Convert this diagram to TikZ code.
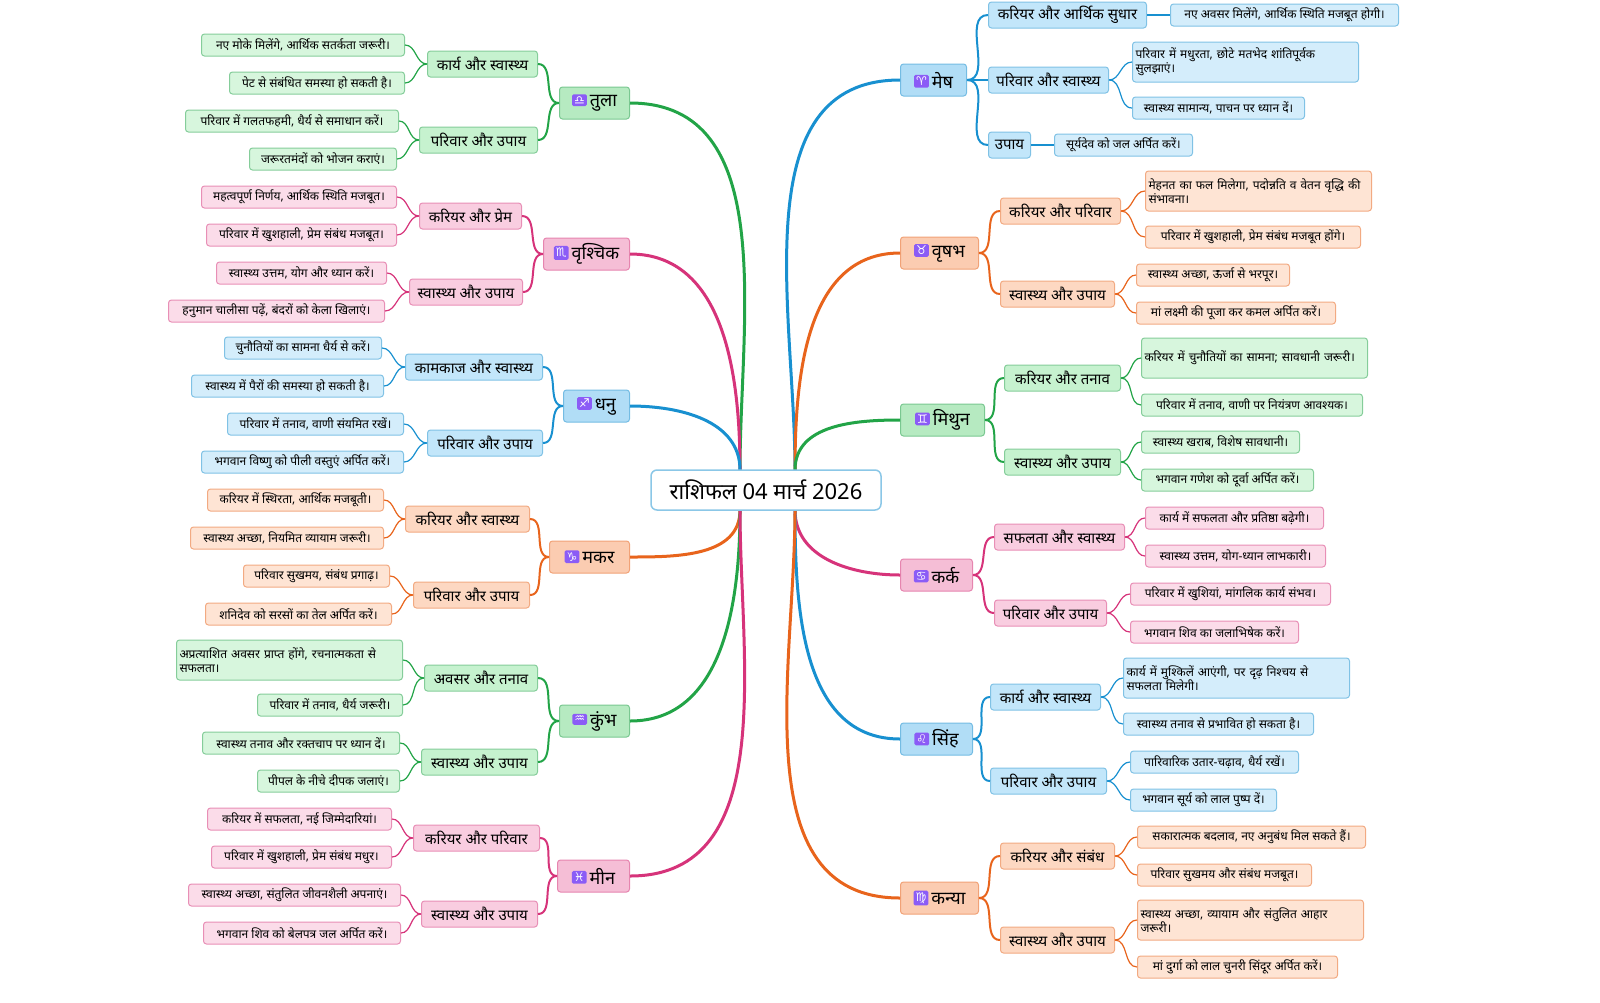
\documentclass[tikz,border=0pt]{standalone}
\usepackage{fontspec}
\setmainfont[Script=Devanagari]{Noto Sans}
\newfontfamily\symfont{DejaVu Sans}
\usetikzlibrary{positioning}
\definecolor{grn}{HTML}{22A447}
\definecolor{pnk}{HTML}{D6337A}
\definecolor{blu}{HTML}{1890D0}
\definecolor{org}{HTML}{E8641C}
\definecolor{grnfill}{HTML}{C6F2CF}
\definecolor{pnkfill}{HTML}{F9CDE0}
\definecolor{blufill}{HTML}{C2E6FA}
\definecolor{orgfill}{HTML}{FDD8C2}
\definecolor{zodiac}{HTML}{8B5CF6}
\newcommand\zsign[1]{\tikz[baseline=-0.7ex]\node[fill=zodiac, draw=none, text=white, rounded corners=1.5pt,
  minimum width=0pt, minimum height=0pt, inner sep=2pt, font=\symfont\fontsize{12}{12}\selectfont]{#1};\,}

\begin{document}
\begin{tikzpicture}[x=1pt, y=-1pt,
  box/.style={rounded corners=3pt, line width=1pt, inner sep=3pt, align=left},
  leaf/.style={box, draw=#1!55, fill=#1fill!70, minimum height=22, font=\fontsize{12}{14}\selectfont},
  twoline/.style={minimum height=40, text width=220},
  sub/.style={box, draw=#1!55, fill=#1fill, minimum height=26, align=center, font=\fontsize{15}{17}\selectfont},
  sign/.style={box, draw=#1!60, fill=#1fill!90!#1, minimum height=32, align=center, font=\fontsize{18}{20}\selectfont\bfseries},
  main/.style={rounded corners=6pt, draw=blu!50, line width=1.5pt, fill=white, minimum width=230,
    minimum height=40, font=\fontsize{22}{24}\selectfont\bfseries},
  trunk/.style={line width=3pt},
  twig/.style={line width=2pt},
  leaf link/.style={line width=1.2pt},
]
\useasboundingbox (0,0) rectangle (1600,1002);

% trunks from the centre
\coordinate (ul) at (740,470); \coordinate (dl) at (740,510);
\coordinate (ur) at (795,470); \coordinate (dr) at (795,510);

% ---------- left: tula ----------
\node[sign=grn, anchor=east, minimum width=70] (tula) at (630,103) {\zsign{♎}तुला};
\node[sub=grn, anchor=east, minimum width=110] (tula1) at (538,64) {कार्य और स्वास्थ्य};
\node[sub=grn, anchor=east, minimum width=118] (tula2) at (538,140) {परिवार और उपाय};
\node[leaf=grn, anchor=east, minimum width=203] (tula11) at (405,45) {नए मोके मिलेंगे, आर्थिक सतर्कता जरूरी।};
\node[leaf=grn, anchor=east, minimum width=175] (tula12) at (405,83) {पेट से संबंधित समस्या हो सकती है।};
\node[leaf=grn, anchor=east, minimum width=213] (tula21) at (399,121) {परिवार में गलतफहमी, धैर्य से समाधान करें।};
\node[leaf=grn, anchor=east, minimum width=147] (tula22) at (397,159) {जरूरतमंदों को भोजन कराएं।};

% ---------- left: vrishchik ----------
\node[sign=pnk, anchor=east, minimum width=86] (vrish) at (630,254) {\zsign{♏}वृश्चिक};
\node[sub=pnk, anchor=east, minimum width=102] (vrish1) at (522,216) {करियर और प्रेम};
\node[sub=pnk, anchor=east, minimum width=113] (vrish2) at (523,292) {स्वास्थ्य और उपाय};
\node[leaf=pnk, anchor=east, minimum width=195] (vrish11) at (397,197) {महत्वपूर्ण निर्णय, आर्थिक स्थिति मजबूत।};
\node[leaf=pnk, anchor=east, minimum width=190] (vrish12) at (397,235) {परिवार में खुशहाली, प्रेम संबंध मजबूत।};
\node[leaf=pnk, anchor=east, minimum width=170] (vrish21) at (387,273) {स्वास्थ्य उत्तम, योग और ध्यान करें।};
\node[leaf=pnk, anchor=east, minimum width=216] (vrish22) at (385,311) {हनुमान चालीसा पढ़ें, बंदरों को केला खिलाएं।};

% ---------- left: dhanu ----------
\node[sign=blu, anchor=east, minimum width=66] (dhanu) at (630,406) {\zsign{♐}धनु};
\node[sub=blu, anchor=east, minimum width=137] (dhanu1) at (543,367) {कामकाज और स्वास्थ्य};
\node[sub=blu, anchor=east, minimum width=115] (dhanu2) at (543,443) {परिवार और उपाय};
\node[leaf=blu, anchor=east, minimum width=157] (dhanu11) at (382,348) {चुनौतियों का सामना धैर्य से करें।};
\node[leaf=blu, anchor=east, minimum width=192] (dhanu12) at (384,386) {स्वास्थ्य में पैरों की समस्या हो सकती है।};
\node[leaf=blu, anchor=east, minimum width=176] (dhanu21) at (404,424) {परिवार में तनाव, वाणी संयमित रखें।};
\node[leaf=blu, anchor=east, minimum width=202] (dhanu22) at (404,462) {भगवान विष्णु को पीली वस्तुएं अर्पित करें।};

% ---------- left: makar ----------
\node[sign=org, anchor=east, minimum width=80] (makar) at (630,557) {\zsign{♑}मकर};
\node[sub=org, anchor=east, minimum width=124] (makar1) at (530,519) {करियर और स्वास्थ्य};
\node[sub=org, anchor=east, minimum width=116] (makar2) at (530,595) {परिवार और उपाय};
\node[leaf=org, anchor=east, minimum width=176] (makar11) at (384,500) {करियर में स्थिरता, आर्थिक मजबूती।};
\node[leaf=org, anchor=east, minimum width=193] (makar12) at (384,538) {स्वास्थ्य अच्छा, नियमित व्यायाम जरूरी।};
\node[leaf=org, anchor=east, minimum width=146] (makar21) at (390,576) {परिवार सुखमय, संबंध प्रगाढ़।};
\node[leaf=org, anchor=east, minimum width=186] (makar22) at (392,614) {शनिदेव को सरसों का तेल अर्पित करें।};

% ---------- left: kumbh ----------
\node[sign=grn, anchor=east, minimum width=70] (kumbh) at (630,721) {\zsign{♒}कुंभ};
\node[sub=grn, anchor=east, minimum width=113] (kumbh1) at (538,678) {अवसर और तनाव};
\node[sub=grn, anchor=east, minimum width=116] (kumbh2) at (538,762) {स्वास्थ्य और उपाय};
\node[leaf=grn, twoline, anchor=east] (kumbh11) at (403,660) {अप्रत्याशित अवसर प्राप्त होंगे, रचनात्मकता से सफलता।};
\node[leaf=grn, anchor=east, minimum width=145] (kumbh12) at (403,705) {परिवार में तनाव, धैर्य जरूरी।};
\node[leaf=grn, anchor=east, minimum width=197] (kumbh21) at (400,743) {स्वास्थ्य तनाव और रक्तचाप पर ध्यान दें।};
\node[leaf=grn, anchor=east, minimum width=142] (kumbh22) at (400,781) {पीपल के नीचे दीपक जलाएं।};

% ---------- left: meen ----------
\node[sign=pnk, anchor=east, minimum width=72] (meen) at (630,876) {\zsign{♓}मीन};
\node[sub=pnk, anchor=east, minimum width=126] (meen1) at (540,838) {करियर और परिवार};
\node[sub=pnk, anchor=east, minimum width=116] (meen2) at (538,914) {स्वास्थ्य और उपाय};
\node[leaf=pnk, anchor=east, minimum width=184] (meen11) at (392,819) {करियर में सफलता, नई जिम्मेदारियां।};
\node[leaf=pnk, anchor=east, minimum width=180] (meen12) at (392,857) {परिवार में खुशहाली, प्रेम संबंध मधुर।};
\node[leaf=pnk, anchor=east, minimum width=212] (meen21) at (401,895) {स्वास्थ्य अच्छा, संतुलित जीवनशैली अपनाएं।};
\node[leaf=pnk, anchor=east, minimum width=197] (meen22) at (401,933) {भगवान शिव को बेलपत्र जल अर्पित करें।};

% ---------- right: mesh ----------
\node[sign=blu, anchor=west, minimum width=66] (mesh) at (900,80) {\zsign{♈}मेष};
\node[sub=blu, anchor=west, minimum width=158] (mesh1) at (988,15) {करियर और आर्थिक सुधार};
\node[sub=blu, anchor=west, minimum width=120] (mesh2) at (988,80) {परिवार और स्वास्थ्य};
\node[sub=blu, anchor=west, minimum width=42] (mesh3) at (988,145) {उपाय};
\node[leaf=blu, anchor=west, minimum width=228] (mesh11) at (1170,15) {नए अवसर मिलेंगे, आर्थिक स्थिति मजबूत होगी।};
\node[leaf=blu, twoline, anchor=west] (mesh21) at (1132,62) {परिवार में मधुरता, छोटे मतभेद शांतिपूर्वक सुलझाएं।};
\node[leaf=blu, anchor=west, minimum width=172] (mesh22) at (1132,108) {स्वास्थ्य सामान्य, पाचन पर ध्यान दें।};
\node[leaf=blu, anchor=west, minimum width=138] (mesh31) at (1054,145) {सूर्यदेव को जल अर्पित करें।};

% ---------- right: vrishabh ----------
\node[sign=org, anchor=west, minimum width=78] (vrb) at (900,253) {\zsign{♉}वृषभ};
\node[sub=org, anchor=west, minimum width=120] (vrb1) at (1000,211) {करियर और परिवार};
\node[sub=org, anchor=west, minimum width=114] (vrb2) at (1000,294) {स्वास्थ्य और उपाय};
\node[leaf=org, twoline, anchor=west] (vrb11) at (1145,191) {मेहनत का फल मिलेगा, पदोन्नति व वेतन वृद्धि की संभावना।};
\node[leaf=org, anchor=west, minimum width=215] (vrb12) at (1145,237) {परिवार में खुशहाली, प्रेम संबंध मजबूत होंगे।};
\node[leaf=org, anchor=west, minimum width=153] (vrb21) at (1136,275) {स्वास्थ्य अच्छा, ऊर्जा से भरपूर।};
\node[leaf=org, anchor=west, minimum width=199] (vrb22) at (1136,313) {मां लक्ष्मी की पूजा कर कमल अर्पित करें।};

% ---------- right: mithun ----------
\node[sign=grn, anchor=west, minimum width=84] (mith) at (900,420) {\zsign{♊}मिथुन};
\node[sub=grn, anchor=west, minimum width=116] (mith1) at (1004,378) {करियर और तनाव};
\node[sub=grn, anchor=west, minimum width=116] (mith2) at (1004,462) {स्वास्थ्य और उपाय};
\node[leaf=grn, twoline, anchor=west] (mith11) at (1141,358) {करियर में चुनौतियों का सामना; सावधानी जरूरी।};
\node[leaf=grn, anchor=west, minimum width=221] (mith12) at (1141,405) {परिवार में तनाव, वाणी पर नियंत्रण आवश्यक।};
\node[leaf=grn, anchor=west, minimum width=158] (mith21) at (1141,442) {स्वास्थ्य खराब, विशेष सावधानी।};
\node[leaf=grn, anchor=west, minimum width=172] (mith22) at (1141,480) {भगवान गणेश को दूर्वा अर्पित करें।};

% ---------- right: kark ----------
\node[sign=pnk, anchor=west, minimum width=72] (kark) at (900,575) {\zsign{♋}कर्क};
\node[sub=pnk, anchor=west, minimum width=130] (kark1) at (994,537) {सफलता और स्वास्थ्य};
\node[sub=pnk, anchor=west, minimum width=112] (kark2) at (994,613) {परिवार और उपाय};
\node[leaf=pnk, anchor=west, minimum width=178] (kark11) at (1145,518) {कार्य में सफलता और प्रतिष्ठा बढ़ेगी।};
\node[leaf=pnk, anchor=west, minimum width=180] (kark12) at (1145,556) {स्वास्थ्य उत्तम, योग-ध्यान लाभकारी।};
\node[leaf=pnk, anchor=west, minimum width=200] (kark21) at (1130,594) {परिवार में खुशियां, मांगलिक कार्य संभव।};
\node[leaf=pnk, anchor=west, minimum width=168] (kark22) at (1130,632) {भगवान शिव का जलाभिषेक करें।};

% ---------- right: simha ----------
\node[sign=blu, anchor=west, minimum width=72] (simha) at (900,739) {\zsign{♌}सिंह};
\node[sub=blu, anchor=west, minimum width=110] (simha1) at (990,697) {कार्य और स्वास्थ्य};
\node[sub=blu, anchor=west, minimum width=116] (simha2) at (990,781) {परिवार और उपाय};
\node[leaf=blu, twoline, anchor=west] (simha11) at (1123,678) {कार्य में मुश्किलें आएंगी, पर दृढ़ निश्चय से सफलता मिलेगी।};
\node[leaf=blu, anchor=west, minimum width=190] (simha12) at (1123,724) {स्वास्थ्य तनाव से प्रभावित हो सकता है।};
\node[leaf=blu, anchor=west, minimum width=168] (simha21) at (1130,762) {पारिवारिक उतार-चढ़ाव, धैर्य रखें।};
\node[leaf=blu, anchor=west, minimum width=146] (simha22) at (1130,800) {भगवान सूर्य को लाल पुष्प दें।};

% ---------- right: kanya ----------
\node[sign=org, anchor=west, minimum width=78] (kanya) at (900,898) {\zsign{♍}कन्या};
\node[sub=org, anchor=west, minimum width=114] (kanya1) at (1000,856) {करियर और संबंध};
\node[sub=org, anchor=west, minimum width=114] (kanya2) at (1000,940) {स्वास्थ्य और उपाय};
\node[leaf=org, anchor=west, minimum width=228] (kanya11) at (1137,837) {सकारात्मक बदलाव, नए अनुबंध मिल सकते हैं।};
\node[leaf=org, anchor=west, minimum width=174] (kanya12) at (1137,875) {परिवार सुखमय और संबंध मजबूत।};
\node[leaf=org, twoline, anchor=west] (kanya21) at (1137,920) {स्वास्थ्य अच्छा, व्यायाम और संतुलित आहार जरूरी।};
\node[leaf=org, anchor=west, minimum width=200] (kanya22) at (1137,967) {मां दुर्गा को लाल चुनरी सिंदूर अर्पित करें।};

% trunks
\draw[trunk, grn] (ul) to[out=90,in=0] (tula.east);
\draw[trunk, pnk] (ul) to[out=90,in=0] (vrish.east);
\draw[trunk, blu] (ul) to[out=90,in=0] (dhanu.east);
\draw[trunk, org] (dl) to[out=-90,in=0] (makar.east);
\draw[trunk, grn] (dl) to[out=-90,in=0] (kumbh.east);
\draw[trunk, pnk] (dl) to[out=-90,in=0] (meen.east);
\draw[trunk, blu] (ur) to[out=90,in=180] (mesh.west);
\draw[trunk, org] (ur) to[out=90,in=180] (vrb.west);
\draw[trunk, grn] (ur) to[out=90,in=180] (mith.west);
\draw[trunk, pnk] (dr) to[out=-90,in=180] (kark.west);
\draw[trunk, blu] (dr) to[out=-90,in=180] (simha.west);
\draw[trunk, org] (dr) to[out=-90,in=180] (kanya.west);

% twigs and leaf links, left side
\foreach \s/\c in {tula/grn, vrish/pnk, dhanu/blu, makar/org, kumbh/grn, meen/pnk} {
  \foreach \k in {1,2} {
    \draw[twig, \c] (\s.west) to[out=180,in=0] (\s\k.east);
    \draw[leaf link, \c] (\s\k.west) to[out=180,in=0] (\s\k1.east);
    \draw[leaf link, \c] (\s\k.west) to[out=180,in=0] (\s\k2.east);
  }
}
% twigs and leaf links, right side
\foreach \s/\c in {vrb/org, mith/grn, kark/pnk, simha/blu, kanya/org} {
  \foreach \k in {1,2} {
    \draw[twig, \c] (\s.east) to[out=0,in=180] (\s\k.west);
    \draw[leaf link, \c] (\s\k.east) to[out=0,in=180] (\s\k1.west);
    \draw[leaf link, \c] (\s\k.east) to[out=0,in=180] (\s\k2.west);
  }
}
\foreach \k in {1,2,3} \draw[twig, blu] (mesh.east) to[out=0,in=180] (mesh\k.west);
\draw[leaf link, blu] (mesh1.east) -- (mesh11.west);
\draw[leaf link, blu] (mesh2.east) to[out=0,in=180] (mesh21.west);
\draw[leaf link, blu] (mesh2.east) to[out=0,in=180] (mesh22.west);
\draw[leaf link, blu] (mesh3.east) -- (mesh31.west);

\node[main] (root) at (766,490) {राशिफल 04 मार्च 2026};
\end{tikzpicture}
\end{document}
